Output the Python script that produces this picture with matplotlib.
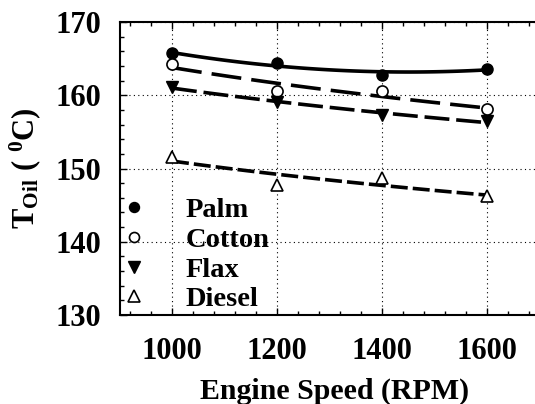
import numpy as np
import matplotlib
matplotlib.use('Agg')
import matplotlib.pyplot as plt
from matplotlib.ticker import MultipleLocator

plt.rcParams['font.family'] = ['Liberation Serif', 'DejaVu Serif']
plt.rcParams['font.weight'] = 'bold'
plt.rcParams['mathtext.fontset'] = 'custom'
plt.rcParams['mathtext.rm'] = 'Liberation Serif:bold'
plt.rcParams['mathtext.bf'] = 'Liberation Serif:bold'
plt.rcParams['mathtext.it'] = 'Liberation Serif:bold'

# data
rpm = np.array([1000, 1200, 1400, 1600])
palm = np.array([165.7, 164.4, 162.8, 163.6])
cotton = np.array([164.2, 160.6, 160.6, 158.1])
flax = np.array([161.1, 159.1, 157.3, 156.5])
diesel = np.array([151.6, 147.8, 148.7, 146.2])
names = ['Palm', 'Cotton', 'Flax', 'Diesel']

fig = plt.figure(figsize=(5.35, 4.04), dpi=100)
# axes runs past the right edge like in the original
ax = fig.add_axes([119.5/535, 89/404, 430.5/535, 293/404])

xs = np.linspace(1000, 1600, 100)

# trend lines: quadratic for palm, log fits for the others
p = np.polyfit(rpm, palm, 2)
ax.plot(xs, np.polyval(p, xs), color='k', lw=2.6, ls='-')

styles = [(0, (8.3, 2.8)), (0, (6.9, 1.9)), (0, (4.7, 1.4))]
for y, st in zip([cotton, flax, diesel], styles):
    b, a = np.polyfit(np.log(rpm), y, 1)
    ax.plot(xs, a + b*np.log(xs), color='k', lw=2.6, ls=st)

ax.plot(rpm, palm, 'o', ms=8, mfc='k', mec='k', ls='none', label=names[0])
ax.plot(rpm, cotton, 'o', ms=8, mfc='white', mec='k', mew=1.2, ls='none', label=names[1])
ax.plot(rpm, flax, 'v', ms=9, mfc='k', mec='k', ls='none', label=names[2])
ax.plot(rpm, diesel, '^', ms=9, mfc='white', mec='k', mew=1.2, ls='none', label=names[3])

ax.set_xlim(900, 1720)
ax.set_ylim(130, 170)
ax.xaxis.set_major_locator(MultipleLocator(200))
ax.xaxis.set_minor_locator(MultipleLocator(40))
ax.yaxis.set_major_locator(MultipleLocator(10))
ax.yaxis.set_minor_locator(MultipleLocator(2))
ax.tick_params(which='both', direction='in', top=True, right=True, labelsize=22)
ax.tick_params(which='major', length=5, width=1)
ax.tick_params(which='minor', length=3, width=1)
ax.tick_params(axis='x', pad=16)
ax.tick_params(axis='y', pad=13)
ax.grid(True, which='major', ls=(0, (1, 3)), color='k', lw=0.8)
for s in ax.spines.values():
    s.set_linewidth(1.5)

ax.set_xlabel('Engine Speed (RPM)', fontsize=21.5, fontweight='bold', labelpad=8)
ax.set_ylabel(r'$\mathbf{T_{Oil}\ (\ ^{0}C)}$', fontsize=22, labelpad=9)

leg = ax.legend(loc='lower left', bbox_to_anchor=(-0.005, 0.0), frameon=False,
                fontsize=20.5, handletextpad=1.3, labelspacing=0.13,
                handlelength=1.0, markerscale=0.9, borderpad=0.1,
                borderaxespad=0)

fig.savefig('out.png', dpi=100)
